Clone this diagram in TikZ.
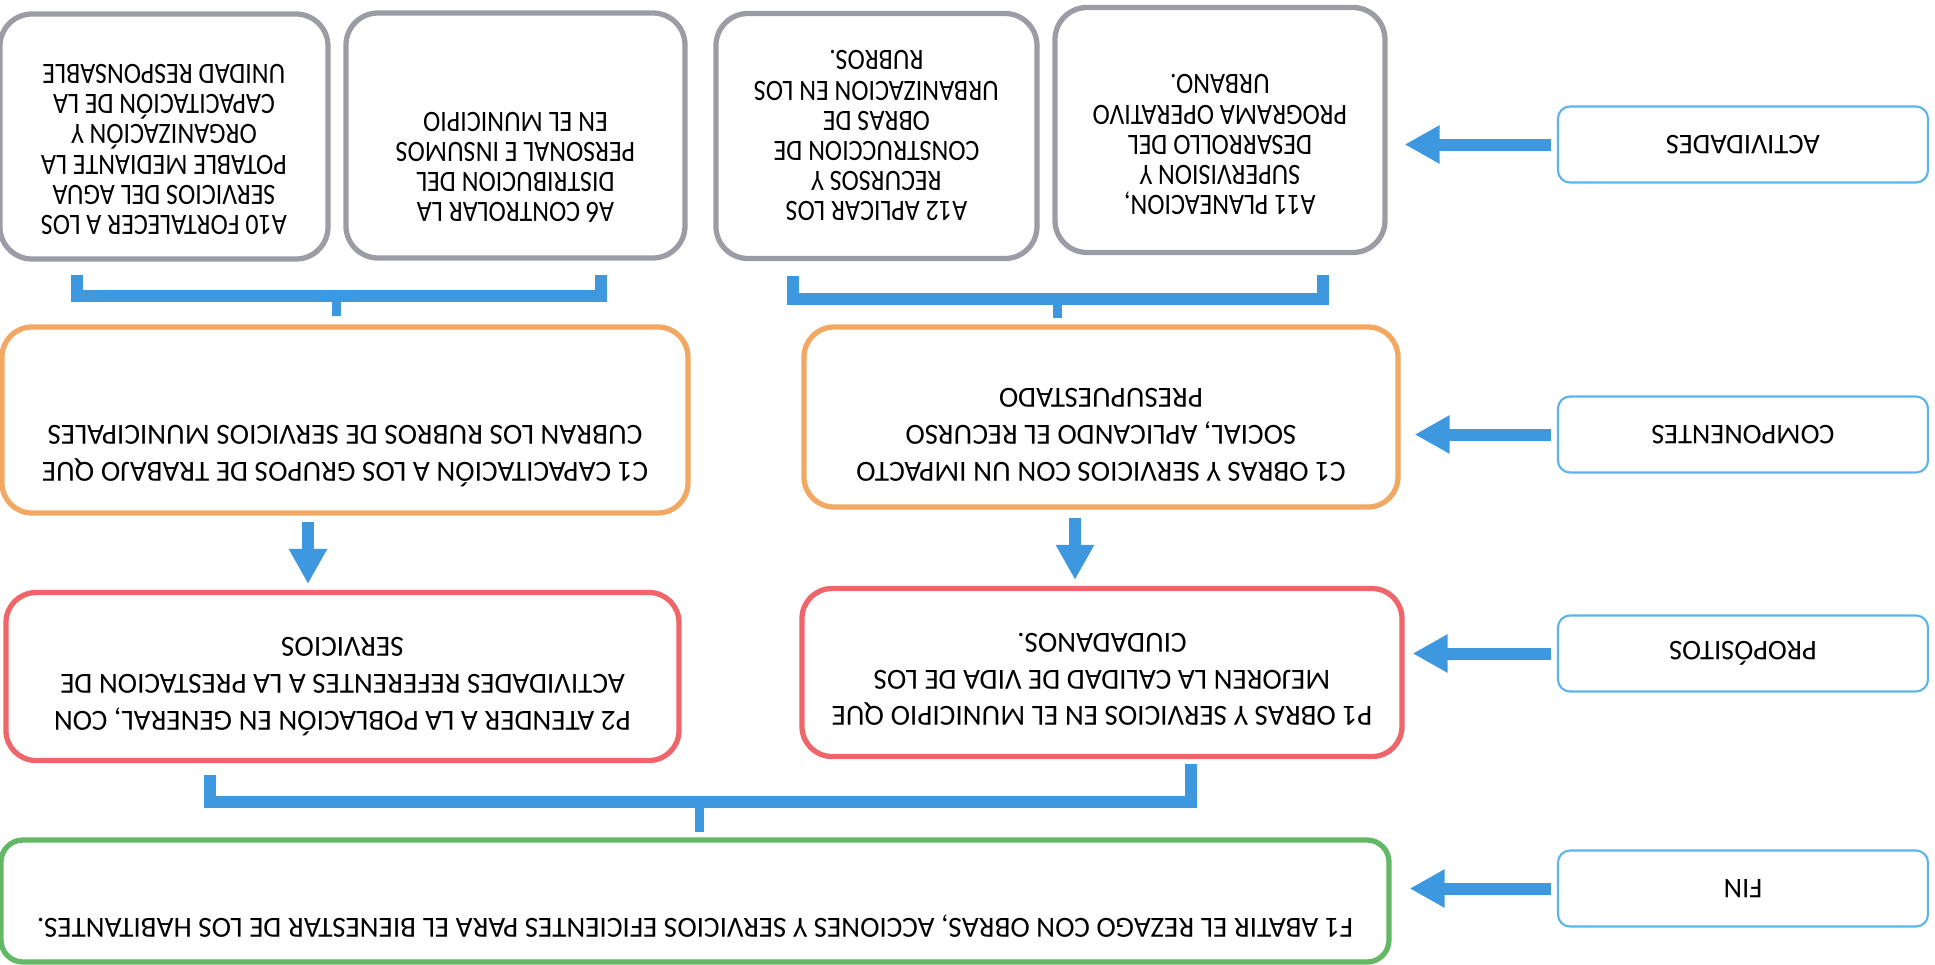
\documentclass[tikz,border=0pt]{standalone}
\usepackage{fontspec}
\setmainfont{Carlito}
\newfontfamily\narrowfont{Carlito}[FakeStretch=0.88]
\usetikzlibrary{arrows.meta,calc}

\definecolor{actgray}{RGB}{156,156,164}
\definecolor{comporange}{RGB}{242,168,98}
\definecolor{propred}{RGB}{238,102,106}
\definecolor{fingreen}{RGB}{98,184,100}
\definecolor{levelblue}{RGB}{92,180,232}
\definecolor{flowblue}{RGB}{62,152,224}

\begin{document}
\begin{tikzpicture}[
    rotate=180,
    transform shape,
    level/.style={
        draw=levelblue,
        line width=0.6pt,
        rounded corners=0.12cm,
        minimum width=3.7cm,
        minimum height=0.76cm,
        inner sep=0pt,
        font=\fontsize{8.1}{9}\selectfont
    },
    activity/.style={
        draw=actgray,
        line width=1.5pt,
        rounded corners=0.32cm,
        minimum height=2.45cm,
        inner sep=0pt,
        align=center,
        font=\narrowfont\fontsize{8.4}{8.6}\selectfont
    },
    component/.style={
        draw=comporange,
        line width=1.5pt,
        rounded corners=0.3cm,
        inner sep=0pt,
        align=center,
        font=\fontsize{8.3}{10.4}\selectfont
    },
    purpose/.style={
        draw=propred,
        line width=1.5pt,
        rounded corners=0.3cm,
        minimum height=1.68cm,
        inner sep=0pt,
        align=center,
        font=\fontsize{8.3}{10.5}\selectfont
    },
    goal/.style={
        draw=fingreen,
        line width=1.5pt,
        rounded corners=0.22cm,
        inner sep=0pt,
        align=center,
        font=\fontsize{8.3}{10}\selectfont
    },
    lifted/.style={
        text depth=#1
    },
    pointer/.style={
        -{Triangle[width=0.36cm,length=0.35cm]},
        line width=0.12cm,
        draw=flowblue
    },
    bracket/.style={
        line width=0.12cm,
        draw=flowblue
    },
    stem/.style={
        line width=0.09cm,
        draw=flowblue
    }
]

\useasboundingbox (0,0) rectangle (19.35,9.64);

% Horizontal position of the level labels
\def\LevelX{1.92}

% ==================================================
% Level labels
% ==================================================

\node[level] (lblAct) at (\LevelX,1.445)
    {ACTIVIDADES};

\node[level] (lblComp) at (\LevelX,4.345)
    {COMPONENTES};

\node[level] (lblProp) at (\LevelX,6.535)
    {PROPÓSITOS};

\node[level] (lblFin) at (\LevelX,8.885)
    {FIN};

% ==================================================
% Actividades
% ==================================================

\node[activity, minimum width=3.30cm, lifted=0.30cm] (a11) at (7.15,1.30)
    {A11 PLANEACION,\\SUPERVISION Y\\DESARROLLO DEL\\PROGRAMA OPERATIVO\\URBANO.};

\node[activity, minimum width=3.21cm, lifted=0pt] (a12) at (10.585,1.36)
    {A12 APLICAR LOS\\RECURSOS Y\\CONSTRUCCION DE\\OBRAS DE\\URBANIZACION EN LOS\\RUBROS.};

\node[activity, minimum width=3.39cm, lifted=0.64cm] (a6) at (14.195,1.355)
    {A6 CONTROLAR LA\\DISTRIBUCION DEL\\PERSONAL E INSUMOS\\EN EL MUNICIPIO};

\node[activity, minimum width=3.28cm, lifted=0.26cm] (a10) at (17.71,1.365)
    {A10 FORTALECER A LOS\\SERVICIOS DEL AGUA\\POTABLE MEDIANTE LA\\ORGANIZACIÓN Y\\CAPACITACIÓN DE LA\\UNIDAD RESPONSABLE};

% ==================================================
% Componentes
% ==================================================

\node[component, minimum width=5.94cm, minimum height=1.80cm, lifted=0.36cm] (cObras) at (8.34,4.17)
    {C1 OBRAS Y SERVICIOS CON UN IMPACTO\\SOCIAL, APLICANDO EL RECURSO\\PRESUPUESTADO};

\node[component, minimum width=6.86cm, minimum height=1.86cm, lifted=0.72cm] (cCap) at (15.90,4.20)
    {C1 CAPACITACIÓN A LOS GRUPOS DE TRABAJO QUE\\CUBRAN LOS RUBROS DE SERVICIOS MUNICIPALES};

% ==================================================
% Propósitos
% ==================================================

\node[purpose, minimum width=6.00cm, lifted=0.14cm] (pObras) at (8.33,6.725)
    {P1 OBRAS Y SERVICIOS EN EL MUNICIPIO QUE\\MEJOREN LA CALIDAD DE VIDA DE LOS\\CIUDADANOS.};

\node[purpose, minimum width=6.73cm, lifted=0.20cm] (pAt) at (15.925,6.765)
    {P2 ATENDER A LA POBLACIÓN EN GENERAL, CON\\ACTIVIDADES REFERENTES A LA PRESTACION DE\\SERVICIOS};

% ==================================================
% Fin
% ==================================================

\node[goal, minimum width=13.88cm, minimum height=1.22cm, lifted=0.54cm] (fin) at (12.40,9.01)
    {F1 ABATIR EL REZAGO CON OBRAS, ACCIONES Y SERVICIOS EFICIENTES PARA EL BIENESTAR DE LOS HABITANTES.};

% ==================================================
% Arrows from the labels
% ==================================================

\draw[pointer, shorten <=0.06cm, shorten >=0.17cm]
    (lblAct.east) -- (lblAct.east -| a11.west);

\draw[pointer, shorten <=0.06cm, shorten >=0.14cm]
    (lblComp.east) -- (lblComp.east -| cObras.west);

\draw[pointer, shorten <=0.06cm, shorten >=0.08cm]
    (lblProp.east) -- (lblProp.east -| pObras.west);

\draw[pointer, shorten <=0.06cm, shorten >=0.18cm]
    (lblFin.east) -- (lblFin.east -| fin.west);

% ==================================================
% Brackets joining the boxes
% ==================================================

% Actividades to the left component
\coordinate (barCap) at (15.98,2.96);
\draw[bracket]
    ($(a10.north)+(0.87,0.13)$) |- (barCap) -| ($(a6.north)+(-0.855,0.14)$);
\draw[stem, shorten >=0.08cm]
    (barCap) -- (barCap |- cCap.south);

% Actividades to the right component
\coordinate (barObras) at (8.77,2.985);
\draw[bracket]
    ($(a12.north)+(0.835,0.15)$) |- (barObras) -| ($(a11.north)+(-1.03,0.2)$);
\draw[stem, shorten >=0.06cm]
    (barObras) -- (barObras |- cObras.south);

% Propositos to the fin
\coordinate (barFin) at (12.35,8.02);
\draw[bracket]
    ($(pAt.north)+(1.325,0.12)$) |- (barFin) -| ($(pObras.north)+(-0.89,0.05)$);
\draw[stem, shorten >=0.05cm]
    (barFin) -- (barFin |- fin.south);

% ==================================================
% Componentes to propositos
% ==================================================

\coordinate (upCap) at ($(cCap.north)+(0.37,0)$);
\draw[pointer, shorten <=0.06cm, shorten >=0.06cm]
    (upCap) -- (upCap |- pAt.south);

\coordinate (upObras) at ($(cObras.north)+(0.26,0)$);
\draw[pointer, shorten <=0.08cm, shorten >=0.06cm]
    (upObras) -- (upObras |- pObras.south);

\end{tikzpicture}
\end{document}
